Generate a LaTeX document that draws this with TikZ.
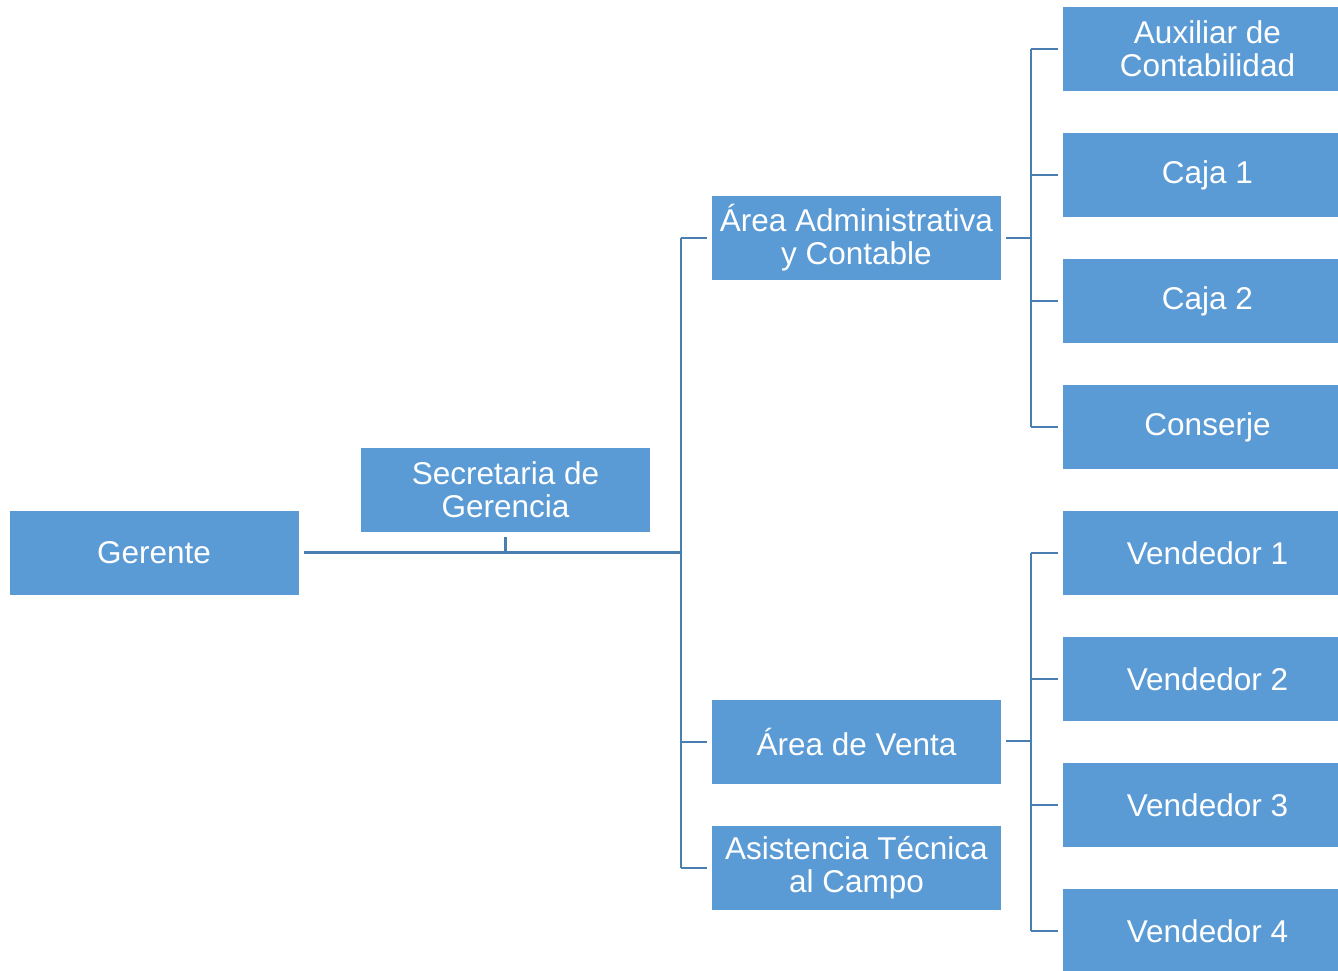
\documentclass[tikz,border=0pt]{standalone}
\usepackage{fontspec}
\setmainfont{Liberation Sans}
\usetikzlibrary{calc}
\definecolor{boxblue}{HTML}{5B9BD5}
\definecolor{lineblue}{HTML}{4A7EB0}
\begin{document}
\begin{tikzpicture}[x=1pt,y=-1pt,
  box/.style={rectangle,fill=boxblue,draw=none,minimum width=289pt,minimum height=84pt,
    inner sep=0pt,align=center,text=white,font=\fontsize{31.5}{33}\selectfont},
  conn/.style={draw=lineblue,line width=2.5pt}]
\useasboundingbox (0,0) rectangle (1338,970);
% boxes
\node[box] (ger) at (154,553) {Gerente};
\node[box] (sec) at (505.5,490) {Secretaria de\\Gerencia};
\node[box] (adm) at (856.5,238) {Área Administrativa\\y Contable};
\node[box] (ven) at (856.5,742) {Área de Venta};
\node[box] (ast) at (856.5,868) {Asistencia Técnica\\al Campo};
\node[box] (aux) at (1207.5,49) {Auxiliar de\\Contabilidad};
\node[box] (c1) at (1207.5,175) {Caja 1};
\node[box] (c2) at (1207.5,301) {Caja 2};
\node[box] (con) at (1207.5,427) {Conserje};
\node[box] (v1) at (1207.5,553) {Vendedor 1};
\node[box] (v2) at (1207.5,679) {Vendedor 2};
\node[box] (v3) at (1207.5,805) {Vendedor 3};
\node[box] (v4) at (1207.5,931) {Vendedor 4};
% junction coordinates
\coordinate (j1) at (681,552);
\coordinate (j2) at (1031,238);
\coordinate (j3) at (1031,741);
% Gerente trunk
\draw[conn,line width=3pt] ($(ger.east)+(5,-1)$) -- (j1);
\draw[conn] ($(sec.south)+(0,5)$) -- (sec.south |- j1);
\draw[conn] (j1 |- adm.west) -- (j1 |- ast.west);
\draw[conn] (j1 |- adm.west) -- ($(adm.west)+(-5,0)$);
\draw[conn] (j1 |- ven.west) -- ($(ven.west)+(-5,0)$);
\draw[conn] (j1 |- ast.west) -- ($(ast.west)+(-5,0)$);
% Area Administrativa branch
\draw[conn] ($(adm.east)+(5,0)$) -- (j2);
\draw[conn] (j2 |- aux.west) -- (j2 |- con.west);
\foreach \n in {aux,c1,c2,con}
  \draw[conn] (j2 |- \n.west) -- ($(\n.west)+(-5,0)$);
% Area de Venta branch
\draw[conn] ($(ven.east)+(5,-1)$) -- (j3);
\draw[conn] (j3 |- v1.west) -- (j3 |- v4.west);
\foreach \n in {v1,v2,v3,v4}
  \draw[conn] (j3 |- \n.west) -- ($(\n.west)+(-5,0)$);
\end{tikzpicture}
\end{document}
